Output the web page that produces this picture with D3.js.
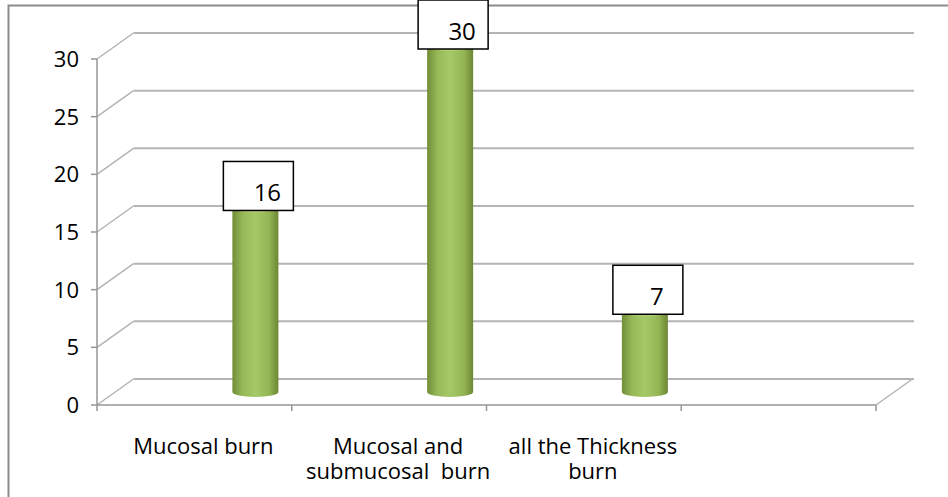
<!DOCTYPE html>
<html>
<head>
<meta charset="utf-8">
<script src="https://cdn.jsdelivr.net/npm/d3@7"></script>
<style>
  body { margin: 0; background: #fff; }
  text { font-family: "Open Sans", "Noto Sans", sans-serif; fill: #000; }
</style>
</head>
<body>
<div id="canvas"></div>
<script>
// chart data
const categories = ["Mucosal burn", "Mucosal and\nsubmucosal  burn", "all the Thickness\nburn", ""];
const values = [16, 30, 7];
const yTicks = [0, 5, 10, 15, 20, 25, 30];

const width = 948;
const height = 497;
const depth = { dx: 36.5, dy: -26 };   // 3d wall offset

const svg = d3.select("#canvas").append("svg")
  .attr("width", width)
  .attr("height", height);

// outer frame
svg.append("rect")
  .attr("x", 8.5).attr("y", 5.5)
  .attr("width", 960).attr("height", 520)
  .attr("fill", "none")
  .attr("stroke", "#8c8c8c")
  .attr("stroke-width", 2);

const x = d3.scaleBand()
  .domain(categories)
  .range([97, 876]);

const y = d3.scaleLinear()
  .domain([0, 30])
  .range([405, 59]);

const grid = svg.append("g");
const gridColor = "#b4b4b4";

// back wall gridlines + diagonals to the front axis
yTicks.forEach(t => {
  grid.append("line")
    .attr("x1", 97 + depth.dx).attr("x2", 914)
    .attr("y1", y(t) + depth.dy).attr("y2", y(t) + depth.dy)
    .attr("stroke", gridColor).attr("stroke-width", 2);
  grid.append("line")
    .attr("x1", 97).attr("y1", y(t))
    .attr("x2", 97 + depth.dx).attr("y2", y(t) + depth.dy)
    .attr("stroke", gridColor).attr("stroke-width", 1.5);
});

// floor right edge
grid.append("line")
  .attr("x1", 876).attr("y1", y(0))
  .attr("x2", 876 + depth.dx).attr("y2", y(0) + depth.dy)
  .attr("stroke", gridColor).attr("stroke-width", 1.5);

// front axes
const axisColor = "#969696";
svg.append("line")
  .attr("x1", 97).attr("x2", 97)
  .attr("y1", y(30)).attr("y2", y(0))
  .attr("stroke", axisColor).attr("stroke-width", 1.5);
svg.append("line")
  .attr("x1", 97).attr("x2", 876)
  .attr("y1", y(0)).attr("y2", y(0))
  .attr("stroke", axisColor).attr("stroke-width", 1.5);

// y ticks
const yAxis = svg.append("g");
yTicks.forEach(t => {
  yAxis.append("line")
    .attr("x1", 91).attr("x2", 97)
    .attr("y1", y(t)).attr("y2", y(t))
    .attr("stroke", axisColor).attr("stroke-width", 1.5);
  yAxis.append("text")
    .attr("x", 79).attr("y", y(t) + 8)
    .attr("text-anchor", "end")
    .style("font-size", "22px")
    .text(t);
});

// x ticks and labels
const bounds = x.domain().map(c => x(c)).concat([x.range()[1]]);
bounds.forEach(b => {
  svg.append("line")
    .attr("x1", b).attr("x2", b)
    .attr("y1", y(0)).attr("y2", y(0) + 6)
    .attr("stroke", axisColor).attr("stroke-width", 1.5);
});

categories.forEach(c => {
  const lines = c.split("\n");
  lines.forEach((l, i) => {
    svg.append("text")
      .attr("x", x(c) + x.bandwidth() / 2 + 9)
      .attr("y", 454 + i * 25)
      .attr("text-anchor", "middle")
      .style("font-size", "22px")
      .style("white-space", "pre")
      .text(l);
  });
});

// cylinders
const defs = svg.append("defs");
const grad = defs.append("linearGradient").attr("id", "cyl")
  .attr("x1", "0%").attr("x2", "100%").attr("y1", "0%").attr("y2", "0%");
grad.append("stop").attr("offset", "0%").attr("stop-color", "#718d37");
grad.append("stop").attr("offset", "22%").attr("stop-color", "#96b857");
grad.append("stop").attr("offset", "50%").attr("stop-color", "#a7c866");
grad.append("stop").attr("offset", "80%").attr("stop-color", "#94b554");
grad.append("stop").attr("offset", "100%").attr("stop-color", "#6c8734");

const barW = 46;
const ry = 5;
const shift = 61;
const midDy = depth.dy / 2;

const bars = svg.append("g");
values.forEach((v, i) => {
  const c = categories[i];
  const cx = x(c) + x.bandwidth() / 2 + shift;
  const y0 = y(0) + midDy;
  const y1 = y(v) + midDy;
  const path = `M${cx - barW / 2},${y1} L${cx - barW / 2},${y0} ` +
    `A${barW / 2},${ry} 0 0 0 ${cx + barW / 2},${y0} L${cx + barW / 2},${y1} Z`;
  bars.append("path").attr("d", path).attr("fill", "url(#cyl)");
  bars.append("ellipse")
    .attr("cx", cx).attr("cy", y1)
    .attr("rx", barW / 2).attr("ry", ry)
    .attr("fill", "#b4d07a");

  // data label box
  const bw = 70, bh = 49;
  const bx = cx - 32;
  const by = y1 + 3 - bh;
  bars.append("rect")
    .attr("x", bx).attr("y", by)
    .attr("width", bw).attr("height", bh)
    .attr("fill", "#fff")
    .attr("stroke", "#000")
    .attr("stroke-width", 1.5);
  bars.append("text")
    .attr("x", bx + 44).attr("y", by + 40)
    .attr("text-anchor", "middle")
    .style("font-size", "24px")
    .text(v);
});
</script>
</body>
</html>
